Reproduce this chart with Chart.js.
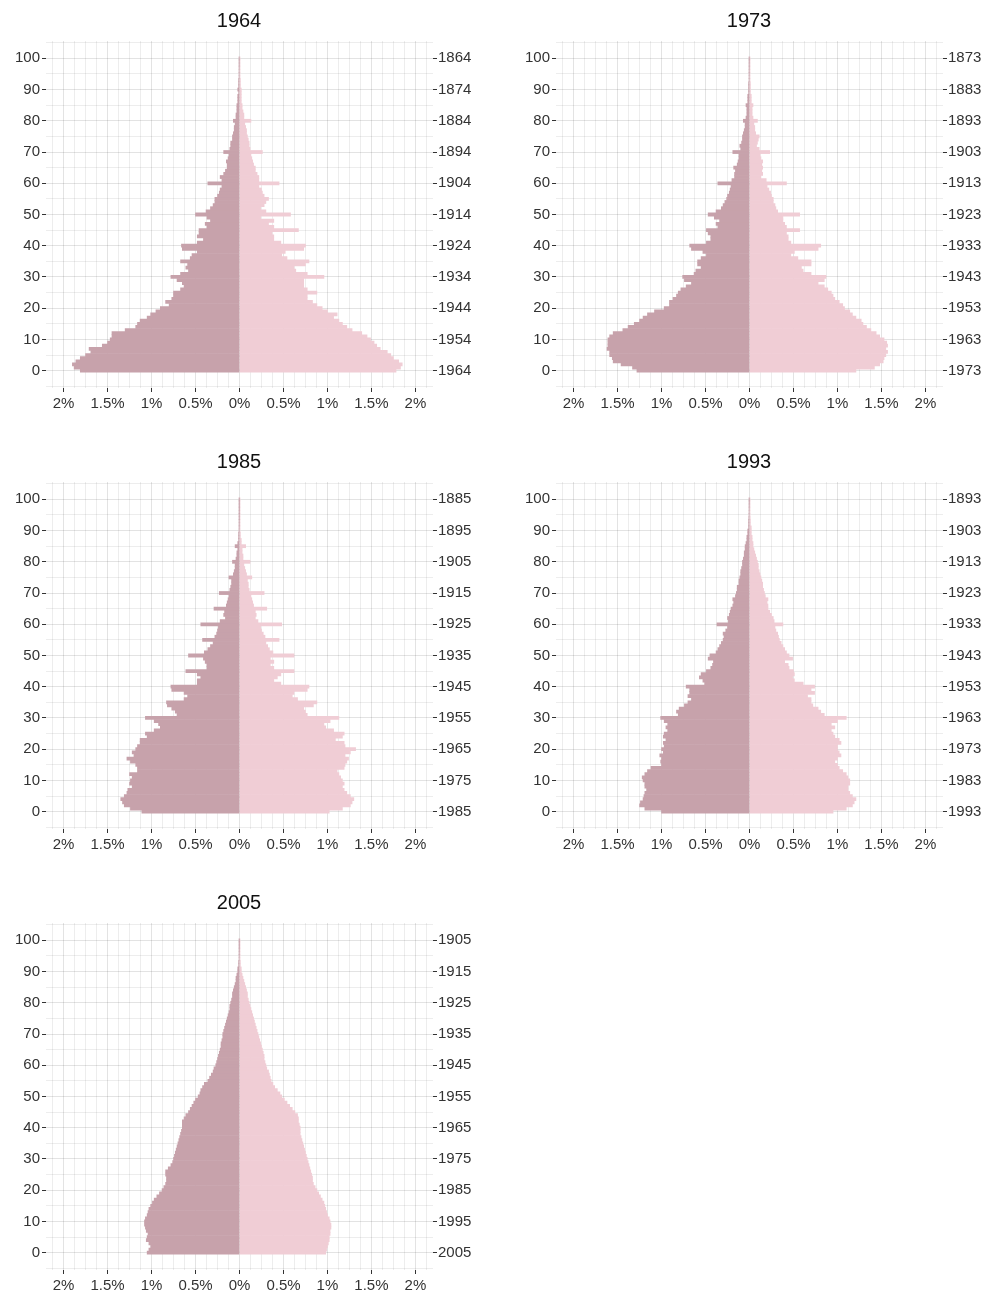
<!DOCTYPE html>
<html>
<head>
<meta charset="utf-8">
<script src="https://cdn.jsdelivr.net/npm/chart.js@4.4.1/dist/chart.umd.min.js"></script>
<style>
  body { margin: 0; background: #fff; width: 988px; height: 1296px; position: relative; overflow: hidden; }
  canvas { position: absolute; }
</style>
</head>
<body>
<canvas id="c0" width="478" height="420" style="left:0;top:0"></canvas>
<canvas id="c1" width="478" height="420" style="left:510px;top:0"></canvas>
<canvas id="c2" width="478" height="420" style="left:0;top:441px"></canvas>
<canvas id="c3" width="478" height="420" style="left:510px;top:441px"></canvas>
<canvas id="c4" width="478" height="420" style="left:0;top:882px"></canvas>
<script>
"use strict";
// census years and single-year ages
var years = [1964, 1973, 1985, 1993, 2005];
var ages = [];
for (var a = 0; a <= 100; a++) ages.push(a);

// share of total population (%) by age, ages 0..100
var male1964 = [1.81,1.88,1.90,1.86,1.81,1.75,1.69,1.71,1.56,1.50,
  1.47,1.45,1.45,1.30,1.18,1.16,1.13,1.05,1.01,0.95,
  0.90,0.80,0.84,0.77,0.75,0.75,0.67,0.63,0.65,0.71,
  0.78,0.67,0.58,0.61,0.59,0.67,0.56,0.54,0.48,0.65,
  0.66,0.48,0.41,0.48,0.46,0.46,0.37,0.39,0.33,0.37,
  0.50,0.38,0.33,0.30,0.28,0.28,0.25,0.23,0.22,0.20,
  0.36,0.20,0.22,0.18,0.16,0.14,0.14,0.15,0.13,0.12,
  0.18,0.11,0.10,0.10,0.08,0.08,0.07,0.06,0.06,0.05,
  0.07,0.04,0.04,0.03,0.03,0.03,0.02,0.02,0.02,0.01,
  0.02,0.01,0.01,0.01,0.005,0.005,0.005,0.004,0.003,0.003,
  0.003];
var female1964 = [1.78,1.83,1.85,1.81,1.75,1.72,1.68,1.60,1.56,1.53,
  1.49,1.45,1.39,1.28,1.22,1.17,1.13,1.07,1.11,1.00,
  0.94,0.88,0.83,0.77,0.77,0.88,0.77,0.73,0.73,0.73,
  0.96,0.77,0.64,0.62,0.75,0.79,0.54,0.48,0.52,0.73,
  0.75,0.47,0.39,0.39,0.37,0.67,0.39,0.33,0.39,0.24,
  0.58,0.30,0.24,0.28,0.30,0.33,0.28,0.26,0.25,0.22,
  0.45,0.22,0.22,0.20,0.18,0.18,0.16,0.15,0.14,0.13,
  0.26,0.12,0.11,0.11,0.10,0.09,0.08,0.08,0.07,0.06,
  0.13,0.05,0.05,0.04,0.03,0.03,0.02,0.02,0.02,0.02,
  0.02,0.01,0.01,0.01,0.006,0.005,0.005,0.004,0.003,0.003,
  0.003];
var male1973 = [1.28,1.33,1.46,1.55,1.56,1.59,1.59,1.62,1.61,1.61,
  1.61,1.59,1.55,1.44,1.38,1.31,1.25,1.21,1.16,1.08,
  0.97,0.91,0.91,0.87,0.83,0.81,0.78,0.72,0.66,0.74,
  0.76,0.63,0.61,0.55,0.59,0.59,0.55,0.49,0.53,0.66,
  0.68,0.49,0.44,0.44,0.47,0.49,0.36,0.38,0.34,0.40,
  0.47,0.38,0.32,0.30,0.28,0.26,0.25,0.23,0.22,0.21,
  0.36,0.20,0.17,0.17,0.16,0.18,0.14,0.13,0.12,0.12,
  0.19,0.10,0.11,0.09,0.08,0.08,0.07,0.06,0.05,0.05,
  0.07,0.04,0.03,0.03,0.03,0.04,0.02,0.02,0.02,0.01,
  0.01,0.01,0.01,0.005,0.005,0.004,0.004,0.003,0.003,0.002,
  0.002];
var female1973 = [1.21,1.42,1.48,1.52,1.53,1.55,1.57,1.55,1.57,1.56,
  1.53,1.48,1.44,1.38,1.33,1.29,1.27,1.21,1.17,1.14,
  1.08,1.06,1.02,0.97,0.95,0.93,0.89,0.85,0.78,0.85,
  0.87,0.70,0.61,0.59,0.70,0.70,0.55,0.47,0.51,0.78,
  0.81,0.47,0.44,0.44,0.42,0.57,0.42,0.40,0.38,0.38,
  0.57,0.32,0.30,0.29,0.27,0.27,0.25,0.24,0.22,0.20,
  0.42,0.19,0.13,0.15,0.14,0.15,0.14,0.15,0.13,0.12,
  0.23,0.11,0.08,0.09,0.10,0.11,0.07,0.06,0.06,0.05,
  0.09,0.04,0.03,0.03,0.03,0.04,0.02,0.02,0.02,0.01,
  0.01,0.01,0.01,0.006,0.005,0.004,0.004,0.003,0.003,0.002,
  0.002];
var male1985 = [1.11,1.24,1.31,1.33,1.35,1.31,1.28,1.27,1.22,1.25,
  1.24,1.22,1.25,1.16,1.16,1.18,1.24,1.28,1.20,1.22,
  1.18,1.16,1.13,1.13,1.05,1.07,0.97,0.90,0.92,0.97,
  1.07,0.71,0.73,0.77,0.82,0.83,0.63,0.59,0.63,0.77,
  0.78,0.48,0.48,0.44,0.48,0.61,0.37,0.37,0.39,0.41,
  0.58,0.40,0.36,0.33,0.30,0.42,0.28,0.26,0.25,0.24,
  0.44,0.22,0.16,0.18,0.17,0.29,0.15,0.14,0.13,0.12,
  0.23,0.11,0.10,0.09,0.09,0.12,0.07,0.06,0.05,0.05,
  0.08,0.04,0.03,0.03,0.02,0.05,0.02,0.01,0.01,0.01,
  0.005,0.004,0.003,0.003,0.002,0.002,0.002,0.001,0.001,0.001,
  0.001];
var female1985 = [1.02,1.17,1.26,1.28,1.30,1.26,1.22,1.19,1.17,1.19,
  1.17,1.15,1.13,1.11,1.19,1.20,1.22,1.24,1.20,1.26,
  1.32,1.20,1.19,1.09,1.17,1.19,1.07,0.98,0.96,1.03,
  1.13,0.77,0.75,0.73,0.84,0.88,0.66,0.60,0.62,0.77,
  0.79,0.47,0.39,0.43,0.47,0.62,0.39,0.35,0.39,0.35,
  0.62,0.38,0.34,0.32,0.30,0.45,0.29,0.27,0.25,0.24,
  0.48,0.21,0.18,0.19,0.18,0.31,0.16,0.15,0.14,0.13,
  0.28,0.11,0.10,0.10,0.09,0.14,0.08,0.07,0.06,0.05,
  0.12,0.04,0.04,0.03,0.03,0.07,0.02,0.02,0.01,0.01,
  0.005,0.004,0.004,0.003,0.003,0.002,0.002,0.001,0.001,0.001,
  0.001];
var male1993 = [1.00,1.19,1.25,1.24,1.21,1.20,1.19,1.17,1.19,1.19,
  1.21,1.22,1.19,1.16,1.12,1.00,1.01,1.00,1.02,0.98,
  1.00,0.97,0.98,0.95,0.98,0.97,0.93,0.95,0.93,0.97,
  1.01,0.81,0.83,0.80,0.74,0.70,0.66,0.70,0.68,0.68,
  0.72,0.51,0.53,0.57,0.55,0.49,0.44,0.42,0.41,0.47,
  0.45,0.38,0.36,0.34,0.32,0.30,0.29,0.30,0.27,0.25,
  0.37,0.24,0.25,0.23,0.22,0.21,0.19,0.18,0.19,0.16,
  0.15,0.14,0.14,0.12,0.12,0.11,0.10,0.10,0.09,0.08,
  0.08,0.07,0.06,0.06,0.05,0.05,0.04,0.03,0.03,0.02,
  0.02,0.01,0.01,0.01,0.008,0.006,0.005,0.004,0.003,0.002,
  0.002];
var female1993 = [0.95,1.10,1.17,1.19,1.21,1.17,1.14,1.12,1.12,1.14,
  1.14,1.12,1.10,1.06,1.02,1.00,0.97,1.00,1.04,1.02,
  1.00,1.00,1.04,1.02,0.97,0.95,0.93,0.97,0.93,1.00,
  1.10,0.85,0.81,0.78,0.72,0.70,0.70,0.66,0.74,0.70,
  0.74,0.61,0.51,0.49,0.51,0.50,0.45,0.44,0.40,0.49,
  0.45,0.42,0.40,0.38,0.36,0.34,0.33,0.32,0.30,0.29,
  0.38,0.28,0.27,0.25,0.23,0.21,0.21,0.20,0.21,0.18,
  0.17,0.16,0.15,0.15,0.14,0.13,0.12,0.11,0.10,0.10,
  0.09,0.08,0.07,0.06,0.05,0.04,0.04,0.03,0.03,0.02,
  0.02,0.02,0.01,0.01,0.008,0.006,0.005,0.004,0.003,0.002,
  0.002];
var male2005 = [1.05,1.03,1.01,1.03,1.06,1.05,1.04,1.06,1.07,1.08,
  1.08,1.07,1.05,1.04,1.03,1.01,0.99,0.97,0.94,0.91,
  0.88,0.86,0.84,0.83,0.83,0.84,0.84,0.81,0.78,0.76,
  0.75,0.74,0.73,0.72,0.71,0.70,0.69,0.68,0.67,0.66,
  0.65,0.65,0.65,0.63,0.61,0.58,0.56,0.54,0.52,0.50,
  0.47,0.45,0.44,0.42,0.40,0.36,0.34,0.32,0.30,0.29,
  0.27,0.26,0.25,0.24,0.23,0.22,0.21,0.21,0.20,0.19,
  0.19,0.18,0.17,0.16,0.15,0.14,0.13,0.12,0.11,0.11,
  0.10,0.09,0.08,0.08,0.07,0.06,0.05,0.04,0.04,0.03,
  0.02,0.02,0.01,0.01,0.005,0.004,0.003,0.002,0.001,0.001,
  0.001];
var female2005 = [0.98,0.99,1.00,1.01,1.02,1.02,1.03,1.03,1.04,1.04,
  1.03,1.02,1.00,0.99,0.98,0.97,0.96,0.94,0.92,0.90,
  0.88,0.86,0.84,0.83,0.83,0.82,0.81,0.80,0.79,0.78,
  0.77,0.76,0.75,0.74,0.73,0.72,0.71,0.70,0.69,0.69,
  0.69,0.68,0.67,0.67,0.66,0.63,0.60,0.57,0.54,0.51,
  0.48,0.46,0.43,0.40,0.38,0.36,0.35,0.34,0.33,0.31,
  0.30,0.29,0.28,0.28,0.27,0.26,0.25,0.24,0.23,0.22,
  0.21,0.20,0.19,0.18,0.17,0.16,0.15,0.14,0.13,0.12,
  0.11,0.10,0.09,0.09,0.08,0.07,0.06,0.05,0.04,0.03,
  0.02,0.02,0.01,0.01,0.006,0.005,0.004,0.003,0.002,0.001,
  0.001];

var maleSeries = [male1964, male1973, male1985, male1993, male2005];
var femaleSeries = [female1964, female1973, female1985, female1993, female2005];

// tick / grid positions
var xGrid = [];
for (var i = -17; i <= 17; i++) xGrid.push(i * 0.125);
var yGrid = [];
for (var v = -5; v <= 105; v += 5) yGrid.push(v);
var ageTicks = [0, 10, 20, 30, 40, 50, 60, 70, 80, 90, 100];

var FONT = "'Liberation Sans', Arial, sans-serif";
var tickFont = { family: FONT, size: 15 };
var textColor = '#333';

function isHalf(v) { return Math.abs(v * 2 - Math.round(v * 2)) < 1e-6; }
function isTen(v) { return Math.abs(v % 10) < 1e-6 && v >= 0 && v <= 100; }

function makeChart(idx) {
  var year = years[idx];
  var male = maleSeries[idx];
  var female = femaleSeries[idx];
  var ctx = document.getElementById('c' + idx).getContext('2d');
  new Chart(ctx, {
    type: 'bar',
    data: {
      datasets: [{
        label: 'Male',
        data: ages.map(function (a, k) { return { x: -male[k], y: a }; }),
        backgroundColor: '#c7a2ab',
        borderWidth: 0,
        barPercentage: 1,
        categoryPercentage: 1
      }, {
        label: 'Female',
        data: ages.map(function (a, k) { return { x: female[k], y: a }; }),
        backgroundColor: '#f0cdd5',
        borderWidth: 0,
        barPercentage: 1,
        categoryPercentage: 1
      }]
    },
    options: {
      indexAxis: 'y',
      responsive: false,
      animation: false,
      layout: { padding: 0 },
      plugins: {
        legend: { display: false },
        tooltip: { enabled: false },
        title: {
          display: true,
          text: String(year),
          color: '#111',
          font: { family: FONT, size: 20, weight: 'normal' },
          padding: { top: 9, bottom: 8 }
        }
      },
      scales: {
        x: {
          type: 'linear',
          stacked: true,
          min: -2.2,
          max: 2.2,
          z: 1,
          border: { display: false },
          afterBuildTicks: function (s) { s.ticks = xGrid.map(function (t) { return { value: t }; }); },
          afterFit: function (s) { s.height = 32; },
          grid: {
            tickLength: 4,
            color: function (c) { return isHalf(c.tick.value) ? 'rgba(0,0,0,0.11)' : 'rgba(0,0,0,0.07)'; },
            tickColor: function (c) { return (isHalf(c.tick.value) && Math.abs(c.tick.value) <= 2) ? '#333' : 'rgba(0,0,0,0)'; }
          },
          ticks: {
            autoSkip: false,
            maxRotation: 0,
            padding: 3,
            font: tickFont,
            color: textColor,
            callback: function (val) {
              if (!isHalf(val) || Math.abs(val) > 2) return '';
              return Math.abs(Math.round(val * 10) / 10) + '%';
            }
          }
        },
        y: {
          type: 'linear',
          stacked: true,
          offset: false,
          min: -5.55,
          max: 105.55,
          z: 1,
          border: { display: false },
          afterBuildTicks: function (s) { s.ticks = yGrid.map(function (t) { return { value: t }; }); },
          afterFit: function (s) { s.width = 46; },
          grid: {
            offset: false,
            tickLength: 4,
            color: function (c) { return isTen(c.tick.value) ? 'rgba(0,0,0,0.11)' : 'rgba(0,0,0,0.07)'; },
            tickColor: function (c) { return isTen(c.tick.value) ? '#333' : 'rgba(0,0,0,0)'; }
          },
          ticks: {
            autoSkip: false,
            padding: 2,
            font: tickFont,
            color: textColor,
            callback: function (val) { return isTen(val) ? String(val) : ''; }
          }
        },
        y2: {
          type: 'linear',
          axis: 'y',
          position: 'right',
          offset: false,
          min: -5.55,
          max: 105.55,
          border: { display: false },
          afterBuildTicks: function (s) { s.ticks = ageTicks.map(function (t) { return { value: t }; }); },
          afterFit: function (s) { s.width = 45; },
          grid: { drawOnChartArea: false, offset: false, tickLength: 4, tickColor: '#333' },
          ticks: {
            autoSkip: false,
            padding: 1,
            font: tickFont,
            color: textColor,
            callback: function (val) { return String(year - val); }
          }
        }
      }
    }
  });
}

for (var n = 0; n < years.length; n++) makeChart(n);
</script>
</body>
</html>
